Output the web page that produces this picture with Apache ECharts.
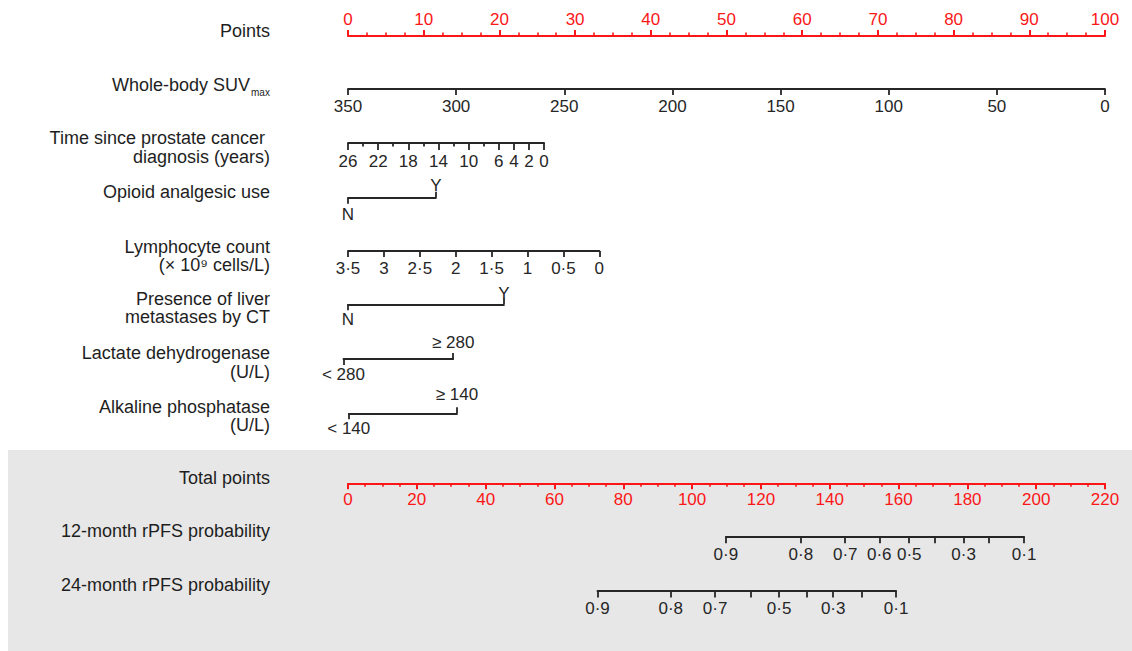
<!DOCTYPE html>
<html><head><meta charset="utf-8">
<script src="https://cdn.jsdelivr.net/npm/echarts@6/dist/echarts.min.js"></script>
<style>html,body{margin:0;padding:0;background:#fff}#c{width:1132px;height:651px}</style>
</head><body><div id="c"></div>
<script>
// ---------------- data ----------------
const pointsRange = [0, 100];
const suvRange = [0, 350];              // SUVmax 350 -> 0 points, 0 -> 100 points
const timeRange = [0, 26];              // years; 26 -> 0 points
const timeTicksMajor = [26, 22, 18, 14, 10, 6, 4, 2, 0];
const timeTicksMinor = [24, 20, 16, 12, 8];
const timePointsAtZero = 25.9;          // points for 0 years
const lymphRange = [0, 3.5];            // x10^9 cells/L; 3.5 -> 0 points
const lymphPointsAtZero = 33.2;         // points for 0 cells/L
const opioidLevels = ['N', 'Y'];
const opioidPoints = [0, 11.6];
const liverLevels = ['N', 'Y'];
const liverPoints = [0, 20.6];
const ldhLevels = ['< 280', '≥ 280'];
const ldhPoints = [-0.6, 13.9];
const alpLevels = ['< 140', '≥ 140'];
const alpPoints = [0.1, 14.4];
const totalRange = [0, 220];
const prob12 = [0.9, 0.8, 0.7, 0.6, 0.5, 0.4, 0.3, 0.2, 0.1];
const prob12Total = [109.8, 131.6, 144.5, 154.4, 163.1, 170.4, 178.9, 186.2, 196.5];
const prob12Labeled = [0.9, 0.8, 0.7, 0.6, 0.5, 0.3, 0.1];
const prob24 = [0.9, 0.8, 0.7, 0.6, 0.5, 0.4, 0.3, 0.2, 0.1];
const prob24Total = [72.5, 93.8, 106.7, 117.0, 125.3, 133.3, 141.0, 149.3, 159.3];
const prob24Labeled = [0.9, 0.8, 0.7, 0.5, 0.3, 0.1];
const rowLabels = [
  'Points',
  'Whole-body SUV',
  'Time since prostate cancer\u00a0\ndiagnosis (years)',
  'Opioid analgesic use',
  'Lymphocyte count\n(\u00d7 10\u2079 cells/L)',
  'Presence of liver\nmetastases by CT',
  'Lactate dehydrogenase\n(U/L)',
  'Alkaline phosphatase\n(U/L)',
  'Total points',
  '12-month rPFS probability',
  '24-month rPFS probability'
];
const suvSub = 'max';

// ---------------- layout / style ----------------
const X0 = 348, W = 757;
const RED = '#fb1717', INK = '#262626', TXT = '#1e1e1e';
const FONT = '"Liberation Sans", Arial, Helvetica, sans-serif';
const grids = [], xAxes = [], yAxes = [];

function addGrid(left, width, top) {
  grids.push({ left: left, width: width, top: top, height: 0, outerBoundsMode: 'none', containLabel: false });
  yAxes.push({ gridIndex: grids.length - 1, type: 'value', show: false, min: 0, max: 1 });
  return grids.length - 1;
}
function lineSt(color, w) { return { color: color, width: w }; }
function lbl(color, margin, extra) {
  return Object.assign({ color: color, fontSize: 17, fontFamily: FONT, margin: margin }, extra || {});
}
const dot = v => String(v).replace('.', '\u00b7');

// Points axis (red, ticks up)
let g = addGrid(X0, W, 36);
xAxes.push({ gridIndex: g, type: 'value', position: 'top', min: pointsRange[0], max: pointsRange[1], interval: 10,
  axisLine: { show: true, lineStyle: lineSt(RED, 2) },
  axisTick: { show: true, length: 6, lineStyle: lineSt(RED, 2) },
  minorTick: { show: true, splitNumber: 4, length: 3.5, lineStyle: lineSt(RED, 1.6) },
  axisLabel: lbl(RED, 8.4), splitLine: { show: false } });

// SUVmax
g = addGrid(X0, W, 89);
xAxes.push({ gridIndex: g, type: 'value', position: 'bottom', inverse: true, min: suvRange[0], max: suvRange[1], interval: 50,
  axisLine: { show: true, lineStyle: lineSt(INK, 1.8) },
  axisTick: { show: true, length: 6, lineStyle: lineSt(INK, 1.8) },
  axisLabel: lbl(INK, 8.5), splitLine: { show: false } });

// Time since diagnosis
g = addGrid(X0, W * timePointsAtZero / 100, 143);
xAxes.push({ gridIndex: g, type: 'value', position: 'bottom', inverse: true, min: timeRange[0], max: timeRange[1],
  axisLine: { show: true, lineStyle: lineSt(INK, 1.8) },
  axisTick: { show: true, length: 7, customValues: timeTicksMajor, lineStyle: lineSt(INK, 1.8) },
  axisLabel: lbl(INK, 10, { customValues: timeTicksMajor }), splitLine: { show: false } });
xAxes.push({ gridIndex: g, type: 'value', position: 'top', inverse: true, min: timeRange[0], max: timeRange[1],
  axisLine: { show: false },
  axisTick: { show: true, inside: true, length: 3.5, customValues: timeTicksMinor, lineStyle: lineSt(INK, 1.8) },
  axisLabel: { show: false }, splitLine: { show: false } });

// Lymphocyte count
g = addGrid(X0, W * lymphPointsAtZero / 100, 251);
xAxes.push({ gridIndex: g, type: 'value', position: 'bottom', inverse: true, min: lymphRange[0], max: lymphRange[1], interval: 0.5,
  axisLine: { show: true, lineStyle: lineSt(INK, 1.8) },
  axisTick: { show: true, length: 6, lineStyle: lineSt(INK, 1.8) },
  axisLabel: lbl(INK, 9, { formatter: dot }), splitLine: { show: false } });

// Two-level (bracket) rows
function addBracket(levels, pts, top, mBottom, mTop) {
  const lo = Math.min(pts[0], pts[1]), hi = Math.max(pts[0], pts[1]);
  const gi = addGrid(X0 + W * lo / 100, W * (hi - lo) / 100, top);
  const fmt = v => levels[pts.indexOf(v)];
  xAxes.push({ gridIndex: gi, type: 'value', position: 'bottom', min: lo, max: hi,
    axisLine: { show: true, lineStyle: lineSt(INK, 1.8) },
    axisTick: { show: true, length: 6, customValues: [pts[0]], lineStyle: lineSt(INK, 1.8) },
    axisLabel: lbl(INK, mBottom, { customValues: [pts[0]], formatter: fmt }), splitLine: { show: false } });
  xAxes.push({ gridIndex: gi, type: 'value', position: 'top', min: lo, max: hi,
    axisLine: { show: false },
    axisTick: { show: true, length: 6, customValues: [pts[1]], lineStyle: lineSt(INK, 1.8) },
    axisLabel: lbl(INK, mTop, { customValues: [pts[1]], formatter: fmt }), splitLine: { show: false } });
}
addBracket(opioidLevels, opioidPoints, 197.7, 7.8, 3.4);
addBracket(liverLevels, liverPoints, 304.3, 6.8, 2.4);
addBracket(ldhLevels, ldhPoints, 359, 7.1, 8.1);
addBracket(alpLevels, alpPoints, 413.3, 6.2, 10.7);

// Total points (red, ticks down)
g = addGrid(X0, W, 483.3);
xAxes.push({ gridIndex: g, type: 'value', position: 'bottom', min: totalRange[0], max: totalRange[1], interval: 20,
  axisLine: { show: true, lineStyle: lineSt(RED, 2) },
  axisTick: { show: true, length: 6, lineStyle: lineSt(RED, 2) },
  minorTick: { show: true, splitNumber: 4, length: 3.5, lineStyle: lineSt(RED, 1.6) },
  axisLabel: lbl(RED, 7.8), splitLine: { show: false } });

// Probability scales (positioned on the total-points scale)
function addProb(probs, totals, labeled, top, margin) {
  const lo = totals[0], hi = totals[totals.length - 1];
  const span = totalRange[1] - totalRange[0];
  const gi = addGrid(X0 + W * (lo - totalRange[0]) / span, W * (hi - lo) / span, top);
  const labVals = labeled.map(p => totals[probs.indexOf(p)]);
  xAxes.push({ gridIndex: gi, type: 'value', position: 'bottom', min: lo, max: hi,
    axisLine: { show: true, lineStyle: lineSt(INK, 1.8) },
    axisTick: { show: true, length: 6.5, customValues: totals, lineStyle: lineSt(INK, 1.8) },
    axisLabel: lbl(INK, margin, { customValues: labVals, formatter: v => dot(probs[totals.indexOf(v)]) }),
    splitLine: { show: false } });
}
addProb(prob12, prob12Total, prob12Labeled, 536.7, 9.4);
addProb(prob24, prob24Total, prob24Labeled, 591, 8.5);

// Left labels
const labelY = [30.5, 85, 147.3, 192, 255.8, 308, 362.5, 415.8, 478, 531, 585];
const graphics = [{ type: 'rect', z: -100, shape: { x: 8, y: 450, width: 1124, height: 201 }, style: { fill: '#e7e7e7' } }];
rowLabels.forEach((t, i) => {
  graphics.push({ type: 'text', x: i === 1 ? 250 : 270, y: labelY[i], z: 10,
    style: { text: t, fill: TXT, fontSize: 18, fontFamily: FONT, align: 'right', verticalAlign: 'middle', lineHeight: 18.5 } });
});
graphics.push({ type: 'text', x: 251, y: 92, z: 10,
  style: { text: suvSub, fill: TXT, fontSize: 10, fontFamily: FONT, align: 'left', verticalAlign: 'middle' } });

const chart = echarts.init(document.getElementById('c'), null, { renderer: 'svg' });
chart.setOption({
  animation: false,
  backgroundColor: '#fff',
  grid: grids, xAxis: xAxes, yAxis: yAxes,
  graphic: { elements: graphics },
  series: []
});
</script></body></html>
